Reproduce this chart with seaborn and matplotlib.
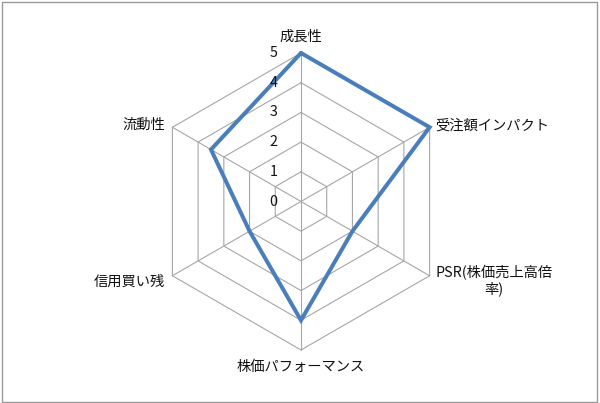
import numpy as np
import pandas as pd
import matplotlib
matplotlib.use("Agg")
import matplotlib.pyplot as plt
import seaborn as sns

# ---- data ----
categories = ["成長性", "受注額インパクト", "PSR(株価売上高倍\n率)", "株価パフォーマンス", "信用買い残", "流動性"]
values = [5, 5, 2, 4, 2, 3.5]
tick_values = [0, 1, 2, 3, 4, 5]
tick_labels = ["0", "1", "2", "3", "4", "5"]

sns.set_theme(style="white")
plt.rcParams["font.family"] = ["Noto Sans CJK JP", "DejaVu Sans"]

n = len(categories)
angles = np.deg2rad(90 - 60 * np.arange(n))
rmax = max(tick_values)

def to_xy(r, th):
    return r * np.cos(th), r * np.sin(th)

fig = plt.figure(figsize=(6.0, 4.03), dpi=100)
ax = fig.add_axes([0, 0, 1, 1])
ax.set_axis_off()

px = 148.5 / rmax  # pixels per unit
cx, cy = 301, 201.5
W, H = 600, 403
ax.set_xlim(-cx / px, (W - cx) / px)
ax.set_ylim(-(H - cy) / px, cy / px)

grid_color = "#a6a6a6"
# hexagonal rings
for t in tick_values[1:]:
    th = np.append(angles, angles[0])
    gx, gy = to_xy(t, th)
    ax.plot(gx, gy, color=grid_color, lw=0.8, zorder=1)
# spokes
for th in angles:
    sx, sy = to_xy(np.array([0, rmax]), th)
    ax.plot(sx, sy, color=grid_color, lw=0.8, zorder=1)

# data line
vals = np.array(values + values[:1], dtype=float)
ths = np.append(angles, angles[0])
dx, dy = to_xy(vals, ths)
df = pd.DataFrame({"x": dx, "y": dy, "order": np.arange(len(dx))})
sns.lineplot(data=df, x="x", y="y", sort=False, estimator=None, color="#4a7ebb",
             lw=2.9, ax=ax, zorder=3, solid_joinstyle="miter")

txt_color = "#111111"
# tick labels along top axis
for t, lab in zip(tick_values, tick_labels):
    ax.annotate(lab, xy=to_xy(t, angles[0]), xytext=(-17, 0), textcoords="offset points",
                ha="right", va="center", fontsize=10.3, color=txt_color)

# category labels
pt = 72 / 100.0
offsets = [
    ((0, 16), "center", "center"),
    ((6, 2), "left", "center"),
    ((6, 11), "left", "top"),
    ((0, -17), "center", "center"),
    ((-7, -6), "right", "center"),
    ((-7, 2), "right", "center"),
]
for cat, th, ((ox, oy), ha, va) in zip(categories, angles, offsets):
    ax.annotate(cat, xy=to_xy(rmax, th), xytext=(ox * pt, oy * pt), textcoords="offset points",
                ha=ha, va=va, multialignment="center", fontsize=10.3, color=txt_color,
                linespacing=1.15)

# outer frame
fig.patches.append(plt.Rectangle((1.5 / W, 1.5 / H), (W - 4.5) / W, (H - 3) / H,
                                 transform=fig.transFigure, fill=False,
                                 edgecolor="#999999", lw=1))

ax.set_xlabel("")
ax.set_ylabel("")
fig.savefig("out.png", dpi=100)
